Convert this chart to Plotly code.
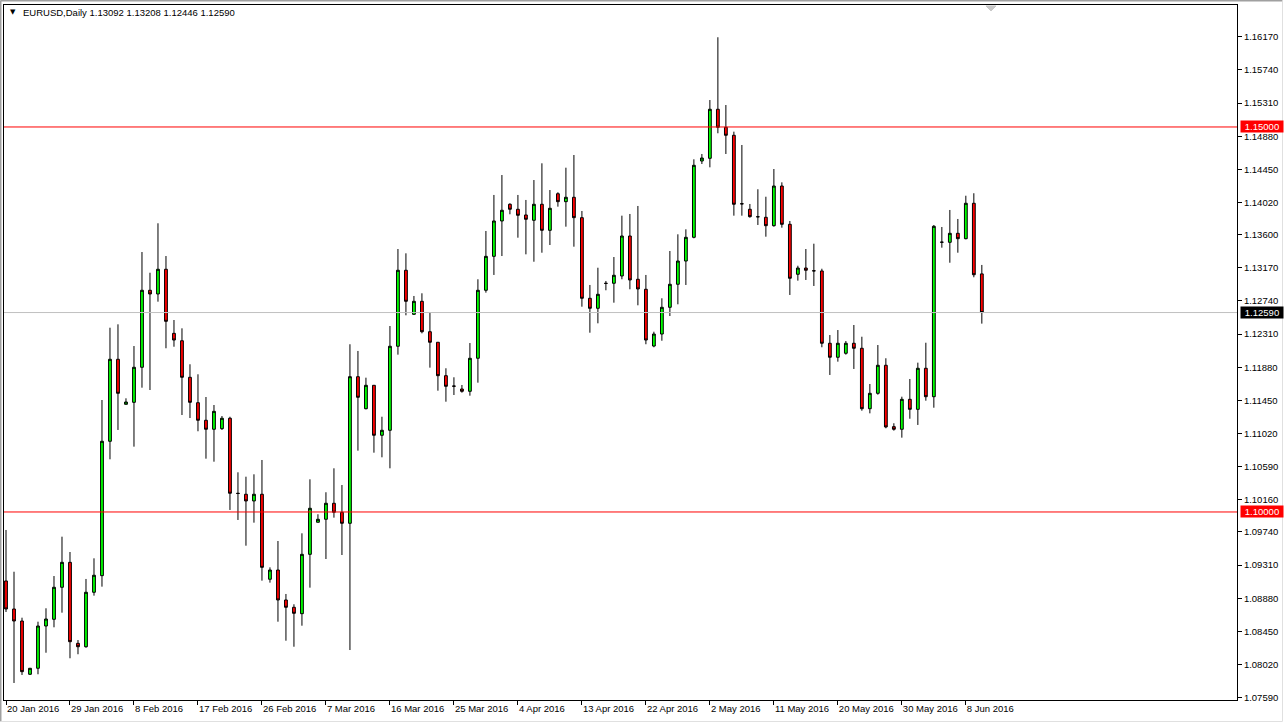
import plotly.graph_objects as go

# ---- data (EURUSD daily, 20 Jan 2016 .. 10 Jun 2016) ----
opens = [1.09104, 1.08740, 1.08584, 1.07892, 1.07970, 1.08519, 1.08606, 1.09022, 1.09346, 1.08294,
         1.08250, 1.08957, 1.09173, 1.10918, 1.11983, 1.11398, 1.11424, 1.11879, 1.12879, 1.12831,
         1.13152, 1.12320, 1.12224, 1.11749, 1.11419, 1.11191, 1.11074, 1.11082, 1.11217, 1.10243,
         1.10230, 1.10143, 1.10230, 1.09126, 1.09246, 1.08857, 1.08762, 1.08679, 1.09450, 1.09866,
         1.09905, 1.10113, 1.09996, 1.09853, 1.11757, 1.11341, 1.11645, 1.10996, 1.11061, 1.12152,
         1.13139, 1.12567, 1.12736, 1.12341, 1.12204, 1.11770, 1.11636, 1.11597, 1.11567, 1.11996,
         1.12879, 1.13320, 1.13779, 1.13996, 1.13931, 1.13857, 1.13788, 1.13996, 1.13658, 1.14133,
         1.14030, 1.14087, 1.13822, 1.12775, 1.12645, 1.12970, 1.12970, 1.13065, 1.13584, 1.13022,
         1.12892, 1.12155, 1.12311, 1.12658, 1.12957, 1.13259, 1.13567, 1.14558, 1.14593, 1.15230,
         1.14996, 1.14892, 1.14004, 1.13931, 1.13835, 1.13827, 1.13718, 1.14233, 1.13736, 1.13087,
         1.13168, 1.13133, 1.13130, 1.12191, 1.12009, 1.12061, 1.12191, 1.12126, 1.11341, 1.11541,
         1.11905, 1.11108, 1.11074, 1.11463, 1.11333, 1.11866, 1.11497, 1.13502, 1.13502, 1.13619,
         1.13549, 1.14009, 1.13092]
highs = [1.09766, 1.09224, 1.08627, 1.07974, 1.08575, 1.08749, 1.09168, 1.09679, 1.09480, 1.08337,
         1.09130, 1.09398, 1.11454, 1.12393, 1.12437, 1.11476, 1.12155, 1.13376, 1.13107, 1.13749,
         1.13324, 1.12493, 1.12385, 1.11918, 1.11788, 1.11493, 1.11389, 1.11246, 1.11237, 1.10515,
         1.10458, 1.10489, 1.10675, 1.09281, 1.09623, 1.08935, 1.08801, 1.09723, 1.10424, 1.09970,
         1.10256, 1.10567, 1.10350, 1.12178, 1.12091, 1.11744, 1.11645, 1.11237, 1.12415, 1.13415,
         1.13359, 1.12805, 1.12840, 1.12593, 1.12204, 1.11866, 1.11749, 1.11649, 1.12194, 1.13022,
         1.13649, 1.14117, 1.14376, 1.14009, 1.14117, 1.14052, 1.14311, 1.14528, 1.14181, 1.14152,
         1.14471, 1.14636, 1.13909, 1.12948, 1.13172, 1.13000, 1.13311, 1.13848, 1.13870, 1.13974,
         1.13078, 1.12341, 1.12775, 1.13389, 1.13606, 1.13671, 1.14580, 1.14649, 1.15350, 1.16165,
         1.15285, 1.14939, 1.14766, 1.14000, 1.14191, 1.14094, 1.14454, 1.14281, 1.13779, 1.13198,
         1.13415, 1.13484, 1.13159, 1.12298, 1.12363, 1.12220, 1.12428, 1.12276, 1.11662, 1.12168,
         1.11996, 1.11152, 1.11497, 1.11727, 1.11939, 1.12198, 1.13727, 1.13701, 1.13922, 1.13805,
         1.14107, 1.14139, 1.13208]
lows = [1.08701, 1.07779, 1.07883, 1.07883, 1.07892, 1.08172, 1.08502, 1.08692, 1.08100, 1.08152,
        1.08237, 1.08913, 1.09030, 1.10684, 1.11065, 1.11398, 1.10848, 1.11614, 1.11584, 1.12731,
        1.12126, 1.12146, 1.11259, 1.11220, 1.11048, 1.10692, 1.10653, 1.11065, 1.10026, 1.09896,
        1.09562, 1.09861, 1.09108, 1.09082, 1.08575, 1.08328, 1.08250, 1.08523, 1.09017, 1.09866,
        1.09389, 1.09926, 1.09441, 1.08207, 1.10796, 1.11333, 1.10770, 1.10710, 1.10567, 1.12043,
        1.12554, 1.12558, 1.12320, 1.11874, 1.11575, 1.11432, 1.11519, 1.11549, 1.11510, 1.11679,
        1.12848, 1.13078, 1.13324, 1.13866, 1.13562, 1.13346, 1.13250, 1.13367, 1.13467, 1.13965,
        1.13705, 1.13445, 1.12666, 1.12328, 1.12450, 1.12879, 1.12718, 1.13022, 1.12892, 1.12684,
        1.12178, 1.12139, 1.12224, 1.12545, 1.12697, 1.12948, 1.13554, 1.14519, 1.14476, 1.14918,
        1.14649, 1.13848, 1.13848, 1.13822, 1.13727, 1.13575, 1.13705, 1.13692, 1.12818, 1.13004,
        1.13013, 1.12935, 1.12139, 1.11779, 1.11952, 1.12043, 1.11857, 1.11315, 1.11281, 1.11523,
        1.11087, 1.11056, 1.10965, 1.11211, 1.11130, 1.11445, 1.11354, 1.13432, 1.13237, 1.13367,
        1.13541, 1.13048, 1.12446]
closes = [1.08740, 1.08584, 1.07926, 1.07970, 1.08519, 1.08610, 1.09022, 1.09346, 1.08315, 1.08250,
          1.08957, 1.09178, 1.10918, 1.11983, 1.11541, 1.11428, 1.11879, 1.12879, 1.12831, 1.13152,
          1.12476, 1.12233, 1.11749, 1.11424, 1.11191, 1.11074, 1.11307, 1.11217, 1.10243, 1.10240,
          1.10143, 1.10230, 1.09281, 1.09246, 1.08857, 1.08762, 1.08684, 1.09450, 1.10048, 1.09905,
          1.10113, 1.09996, 1.09853, 1.11757, 1.11489, 1.11645, 1.10996, 1.11061, 1.12152, 1.13139,
          1.12736, 1.12736, 1.12341, 1.12204, 1.11770, 1.11632, 1.11633, 1.11567, 1.11996, 1.12879,
          1.13320, 1.13779, 1.13918, 1.13931, 1.13853, 1.13801, 1.13996, 1.13658, 1.13944, 1.14030,
          1.14087, 1.13822, 1.12775, 1.12645, 1.12827, 1.12968, 1.13074, 1.13584, 1.13013, 1.12896,
          1.12233, 1.12311, 1.12658, 1.12957, 1.13259, 1.13567, 1.14502, 1.14597, 1.15230, 1.14996,
          1.14892, 1.13996, 1.14001, 1.13835, 1.13833, 1.13718, 1.14233, 1.13736, 1.13035, 1.13168,
          1.13139, 1.13131, 1.12191, 1.12009, 1.12191, 1.12191, 1.12126, 1.11341, 1.11541, 1.11905,
          1.11104, 1.11074, 1.11463, 1.11333, 1.11866, 1.11497, 1.13710, 1.13504, 1.13619, 1.13549,
          1.14009, 1.13081, 1.12590]

date_tick_pos = [0, 8, 16, 24, 32, 40, 48, 56, 64, 72, 80, 88, 96, 104, 112, 120]
date_tick_labels = ["20 Jan 2016", "29 Jan 2016", "8 Feb 2016", "17 Feb 2016", "26 Feb 2016",
                    "7 Mar 2016", "16 Mar 2016", "25 Mar 2016", "4 Apr 2016", "13 Apr 2016",
                    "22 Apr 2016", "2 May 2016", "11 May 2016", "20 May 2016", "30 May 2016",
                    "8 Jun 2016"]
price_ticks = [1.07590, 1.08020, 1.08450, 1.08880, 1.09310, 1.09740, 1.10160, 1.10590, 1.11020,
               1.11450, 1.11880, 1.12310, 1.12740, 1.13170, 1.13600, 1.14020, 1.14450, 1.14880,
               1.15310, 1.15740, 1.16170]
level_lines = [1.15000, 1.10000]
last_price = 1.12590
symbol_title = "EURUSD,Daily"

bar_index = list(range(len(opens)))

FONT = "Tahoma, 'Liberation Sans', Arial, sans-serif"

fig = go.Figure()
fig.add_trace(go.Candlestick(
    x=bar_index, open=opens, high=highs, low=lows, close=closes,
    increasing=dict(fillcolor="#00FF00", line=dict(color="black", width=1)),
    decreasing=dict(fillcolor="#FF0000", line=dict(color="black", width=1)),
    whiskerwidth=0, showlegend=False, hoverinfo="skip",
))

shapes = []
# bid line
shapes.append(dict(type="line", xref="paper", x0=0, x1=1, yref="y", y0=last_price, y1=last_price,
                   line=dict(color="#C0C0C0", width=1), layer="above"))
for lv in level_lines:
    shapes.append(dict(type="line", xref="paper", x0=0, x1=1, yref="y", y0=lv, y1=lv,
                       line=dict(color="#FF0000", width=1), layer="above"))
# chart-shift marker at the top
shapes.append(dict(type="path", xref="paper", yref="paper",
                   path="M 0.7964 0.9986 L 0.8045 0.9986 L 0.8005 0.9914 Z",
                   fillcolor="#C8C8C8", line=dict(color="#C8C8C8", width=1)))
# window border (outside the plot frame)
shapes.append(dict(type="line", xref="paper", yref="paper", x0=-0.00284, x1=1.0369,
                   y0=1.00647, y1=1.00647, line=dict(color="#A0A0A0", width=2)))
shapes.append(dict(type="line", xref="paper", yref="paper", x0=-0.00284, x1=-0.00284,
                   y0=1.00647, y1=-0.0309, line=dict(color="#A0A0A0", width=2)))
shapes.append(dict(type="line", xref="paper", yref="paper", x0=1.0369, x1=1.0369,
                   y0=1.00647, y1=-0.0309, line=dict(color="#E0E0E0", width=1)))
shapes.append(dict(type="line", xref="paper", yref="paper", x0=-0.00284, x1=1.0369,
                   y0=-0.0309, y1=-0.0309, line=dict(color="#E0E0E0", width=1)))

annotations = []
for lv in level_lines:
    annotations.append(dict(xref="paper", x=1, xanchor="left", xshift=3, yref="y", y=lv,
                            yanchor="middle", text=f"{lv:.5f}", showarrow=False,
                            bgcolor="#FF0000", font=dict(color="white", size=9.5, family=FONT),
                            width=42, height=11, borderpad=0, align="center"))
annotations.append(dict(xref="paper", x=1, xanchor="left", xshift=3, yref="y", y=last_price,
                        yanchor="middle", text=f"{last_price:.5f}", showarrow=False,
                        bgcolor="#000000", font=dict(color="white", size=9.5, family=FONT),
                        width=42, height=11, borderpad=0, align="center"))
annotations.append(dict(xref="paper", x=0.0035, xanchor="left", yref="paper", y=0.9899,
                        yanchor="middle", text="▼", showarrow=False,
                        font=dict(color="black", size=7, family="DejaVu Sans")))
annotations.append(dict(xref="paper", x=0.0135, xanchor="left", yref="paper", y=0.9899,
                        yanchor="middle",
                        text=f"{symbol_title} {opens[-1]:.5f} {highs[-1]:.5f} {lows[-1]:.5f} {closes[-1]:.5f}",
                        showarrow=False, font=dict(color="black", size=9.5, family=FONT)))

fig.update_layout(
    width=1285, height=723,
    margin=dict(l=4, r=48, t=5, b=23, pad=0),
    paper_bgcolor="white", plot_bgcolor="white",
    font=dict(family=FONT, size=9.5, color="black"),
    boxgap=0.5,
    shapes=shapes, annotations=annotations,
    xaxis=dict(range=[-0.25, 153.9], showgrid=False, zeroline=False, showline=True, mirror=True,
               linecolor="black", linewidth=1, ticks="outside", ticklen=4, tickcolor="black",
               tickvals=date_tick_pos, ticktext=date_tick_labels, ticklabelposition="outside right",
               rangeslider=dict(visible=False), tickfont=dict(size=9.5, color="black")),
    yaxis=dict(side="right", range=[1.07558, 1.16584], showgrid=False, zeroline=False,
               showline=True, mirror=True, linecolor="black", linewidth=1, ticks="outside",
               ticklen=4, tickcolor="black", tickvals=price_ticks,
               ticktext=[f"{v:.5f}" for v in price_ticks], tickfont=dict(size=9.5, color="black")),
)

fig.write_html("out.html", config={"displayModeBar": False},
               post_script="document.body.style.margin='0';document.body.style.overflow='hidden';")
